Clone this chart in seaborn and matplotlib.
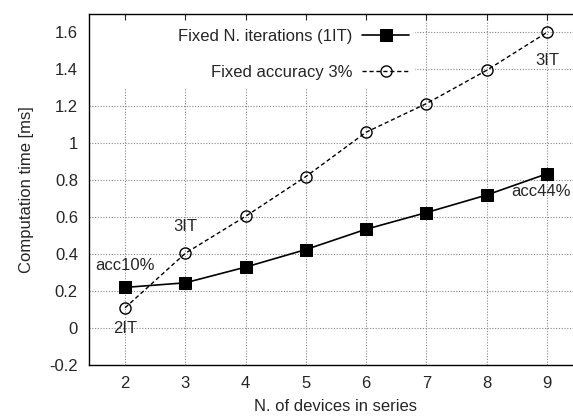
import matplotlib
matplotlib.use("Agg")
import matplotlib.pyplot as plt
import seaborn as sns
import pandas as pd
from matplotlib.patches import Rectangle

devices = [2, 3, 4, 5, 6, 7, 8, 9]
fixed_iter = [0.22, 0.245, 0.33, 0.425, 0.535, 0.625, 0.72, 0.835]
fixed_acc = [0.11, 0.405, 0.605, 0.82, 1.06, 1.215, 1.395, 1.6]
series_names = ["Fixed N. iterations (1IT)", "Fixed accuracy 3%"]

ann_text = ["acc10%", "2IT", "3IT", "3IT", "acc44%"]
ann_x = [2.0, 2.0, 3.0, 9.0, 8.9]
ann_y = [0.34, 0.0, 0.55, 1.45, 0.74]

yticks = [-0.2, 0, 0.2, 0.4, 0.6, 0.8, 1, 1.2, 1.4, 1.6]
ytick_labels = ["-0.2", "0", "0.2", "0.4", "0.6", "0.8", "1", "1.2", "1.4", "1.6"]

sns.set_style("white")
plt.rcParams["font.family"] = ["Liberation Sans", "DejaVu Sans"]
FS = 12

fig = plt.figure(figsize=(5.73, 4.16), dpi=100)
pos = [89 / 573, 1 - 365 / 416, (583 - 89) / 573, (365 - 14) / 416]
ax = fig.add_axes(pos)

df = pd.DataFrame({"x": devices + devices,
                   "y": fixed_iter + fixed_acc,
                   "s": [series_names[0]] * len(devices) + [series_names[1]] * len(devices)})

sns.lineplot(data=df[df.s == series_names[0]], x="x", y="y", ax=ax, color="black",
             lw=1.2, marker="s", markersize=8, markerfacecolor="black",
             markeredgecolor="black", label=series_names[0], zorder=3)
sns.lineplot(data=df[df.s == series_names[1]], x="x", y="y", ax=ax, color="black",
             lw=1.0, linestyle=(0, (3, 2)), marker="o", markersize=8,
             markerfacecolor="none", markeredgecolor="black", markeredgewidth=1.0,
             label=series_names[1], zorder=3)

ax.set_xlim(1.4, 9.6)
ax.set_ylim(-0.2, 1.7)
ax.set_xticks(devices)
ax.set_xticklabels([str(d) for d in devices], fontsize=FS)
ax.set_yticks(yticks)
ax.set_yticklabels(ytick_labels, fontsize=FS)
ax.set_xlabel("N. of devices in series", fontsize=FS, labelpad=6)
ax.set_ylabel("Computation time [ms]", fontsize=FS, labelpad=11)
ax.set_axisbelow(True)
ax.grid(True, color="#888888", linestyle=(0, (1, 1.5)), lw=0.8)
ax.tick_params(length=0, pad=8)
for sp in ax.spines.values():
    sp.set_visible(False)

# white key area hiding grid
ax.add_patch(Rectangle((0, 0.789), 0.66, 0.3, transform=ax.transAxes,
                       facecolor="white", edgecolor="none", zorder=1))

for t, x, y in zip(ann_text, ann_x, ann_y):
    ax.text(x, y, t, ha="center", va="center", fontsize=FS, zorder=4)

leg = ax.legend(loc="upper right", bbox_to_anchor=(0.648, 0.958), frameon=False,
                markerfirst=False, fontsize=FS, handlelength=2.8, handletextpad=0.6,
                labelspacing=1.28, borderpad=0, borderaxespad=0)

# overlay for ticks and border
ax2 = fig.add_axes(pos, sharex=ax, sharey=ax, facecolor="none", zorder=5)
ax2.tick_params(direction="in", length=4, width=0.8, top=True, right=True,
                labelleft=False, labelbottom=False)
for sp in ax2.spines.values():
    sp.set_color("black")
    sp.set_linewidth(1.0)

fig.savefig("out.png", dpi=100)
